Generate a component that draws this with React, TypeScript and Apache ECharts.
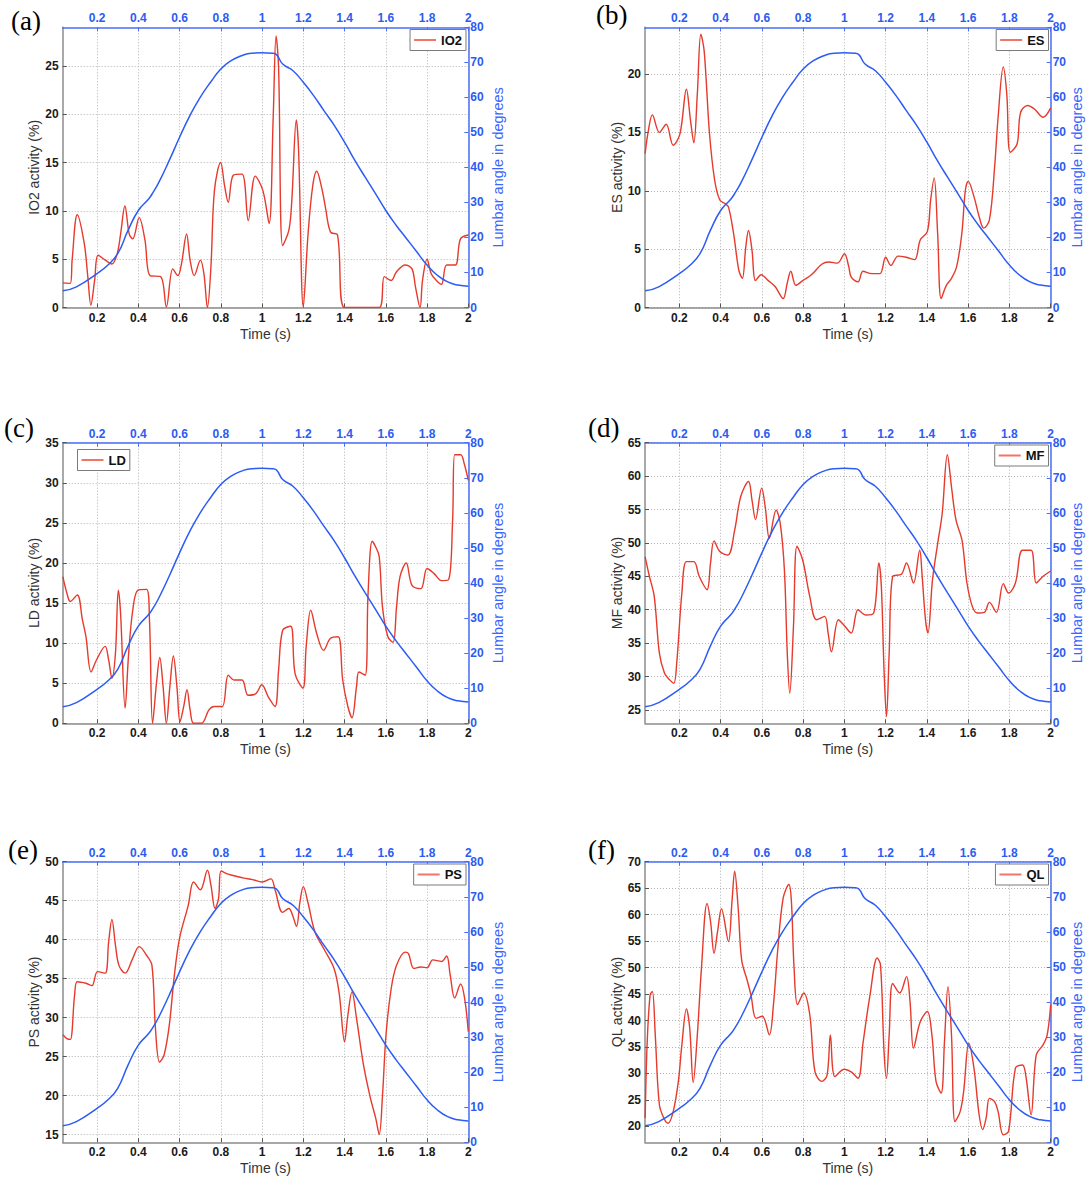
import React, { useEffect, useRef } from "react";
import * as echarts from "echarts";

// ---------- data ----------
const T_MIN = 0.0333;
const T_MAX = 2;
const timeTicks = [0.2, 0.4, 0.6, 0.8, 1.0, 1.2, 1.4, 1.6, 1.8, 2.0];

// lumbar angle (degrees) vs time (s) – same trial for every panel
const lumbarAngle: [number, number][] = [
  [0.034, 4.75], [0.1, 5.9], [0.2, 9.7], [0.25, 12], [0.3, 15.4], [0.35, 22], [0.4, 27.7],
  [0.45, 31], [0.47, 32.7], [0.5, 35.8], [0.55, 42], [0.6, 48.6], [0.65, 54.8], [0.7, 60],
  [0.75, 64.3], [0.8, 68.1], [0.85, 70.5], [0.9, 71.9], [0.95, 72.6], [1.0, 72.7], [1.05, 72.6],
  [1.07, 72.2], [1.1, 69.5], [1.15, 67.6], [1.2, 64.3], [1.25, 60.5], [1.3, 56.2], [1.35, 52],
  [1.4, 47.2], [1.45, 42], [1.5, 37.2], [1.55, 32.5], [1.6, 27.7], [1.65, 23.5], [1.7, 19.7],
  [1.75, 15.9], [1.8, 12.1], [1.85, 9.2], [1.9, 7.3], [1.95, 6.4], [2.0, 6.1],
];

const io2Activity: [number, number][] = [
  [0.034, 2.55], [0.07, 2.5], [0.079, 4.9], [0.104, 9.6], [0.138, 6.6], [0.155, 3.2], [0.17, 0.24],
  [0.188, 2.8], [0.205, 5.4], [0.24, 4.9], [0.272, 4.5], [0.298, 5.6], [0.314, 7.6], [0.335, 10.5],
  [0.356, 7.6], [0.373, 7.1], [0.404, 9.3], [0.432, 7], [0.457, 3.3], [0.508, 3.2], [0.536, 0.07],
  [0.567, 4], [0.592, 3.3], [0.609, 4.5], [0.634, 7.6], [0.651, 4.9], [0.671, 3.3], [0.701, 4.9],
  [0.718, 3.5], [0.735, 0], [0.752, 4.2], [0.769, 12.1], [0.799, 15], [0.819, 12.5], [0.836, 10.9],
  [0.861, 13.7], [0.903, 13.8], [0.933, 9], [0.967, 13.6], [1.004, 12.1], [1.034, 8.7], [1.054, 19.7],
  [1.068, 28.1], [1.08, 24.9], [1.1, 6.4], [1.13, 8], [1.144, 11], [1.166, 19.4], [1.177, 16.3],
  [1.2, 0.07], [1.223, 7.6], [1.245, 12.5], [1.265, 14.1], [1.29, 12.3], [1.307, 10.4], [1.332, 7.8],
  [1.366, 7.5], [1.4, 0], [1.568, 0], [1.593, 3.2], [1.626, 2.8], [1.652, 3.7], [1.694, 4.4],
  [1.727, 4], [1.744, 2.1], [1.766, 0], [1.778, 2.8], [1.8, 5], [1.82, 3.5], [1.845, 2.8],
  [1.87, 2.4], [1.895, 4.4], [1.937, 4.4], [1.962, 7.1], [2.0, 7.5],
];

const esActivity: [number, number][] = [
  [0.034, 13.2], [0.05, 15.2], [0.069, 16.5], [0.103, 15], [0.136, 15.7], [0.17, 13.9], [0.203, 14.9],
  [0.234, 18.7], [0.254, 16], [0.27, 14.1], [0.287, 18.3], [0.304, 23.4], [0.32, 22], [0.346, 14.9],
  [0.371, 10.9], [0.396, 9.2], [0.421, 8.9], [0.438, 8.6], [0.463, 6.3], [0.488, 3.2], [0.505, 2.5],
  [0.522, 5.2], [0.535, 6.6], [0.552, 4.9], [0.569, 2.3], [0.597, 2.8], [0.631, 2.3], [0.664, 1.8],
  [0.703, 0.77], [0.723, 2.1], [0.74, 3.1], [0.765, 1.9], [0.798, 2.3], [0.84, 2.8], [0.89, 3.7],
  [0.924, 3.9], [0.966, 3.8], [1.0, 4.6], [1.021, 3.5], [1.033, 2.6], [1.066, 2.2], [1.09, 3.1],
  [1.133, 2.9], [1.172, 2.9], [1.2, 4.3], [1.225, 3.6], [1.26, 4.4], [1.3, 4.3], [1.34, 4.1],
  [1.368, 5.8], [1.402, 6.5], [1.418, 9.2], [1.435, 11.1], [1.452, 6.3], [1.469, 0.77], [1.494, 1.9],
  [1.519, 2.5], [1.544, 3.5], [1.569, 6.3], [1.586, 10], [1.6, 10.8], [1.628, 9.5], [1.653, 7.8],
  [1.675, 6.8], [1.703, 7.5], [1.728, 12], [1.745, 16.3], [1.77, 20.6], [1.787, 18.3], [1.804, 13.3],
  [1.837, 14], [1.854, 16.7], [1.888, 17.3], [1.921, 17], [1.963, 16.3], [2.0, 17.1],
];

const ldActivity: [number, number][] = [
  [0.034, 18.3], [0.054, 16.2], [0.07, 15.2], [0.104, 16], [0.129, 12.9], [0.146, 10.8], [0.171, 6.4],
  [0.197, 7.9], [0.239, 9.6], [0.256, 7.9], [0.272, 5.6], [0.289, 8.7], [0.303, 16.6], [0.314, 13.7],
  [0.336, 1.9], [0.353, 8.7], [0.373, 14.1], [0.398, 16.6], [0.44, 16.7], [0.454, 12.9], [0.469, 0],
  [0.488, 5], [0.504, 8.2], [0.52, 4.6], [0.536, 0], [0.553, 4.6], [0.57, 8.4], [0.587, 4.6],
  [0.602, 0.2], [0.62, 2.1], [0.636, 4.2], [0.651, 1.7], [0.668, 0], [0.706, 0], [0.743, 1.7],
  [0.769, 2.1], [0.807, 2.1], [0.836, 6], [0.864, 5.4], [0.903, 5.4], [0.932, 3.5], [0.97, 3.7],
  [0.999, 4.8], [1.03, 3.3], [1.063, 2.1], [1.08, 6.6], [1.1, 11.6], [1.139, 12.1], [1.16, 6.2],
  [1.198, 4.4], [1.214, 9.6], [1.236, 14.1], [1.265, 11.2], [1.298, 9.1], [1.332, 10.6], [1.369, 10.8],
  [1.391, 5.4], [1.416, 2.1], [1.436, 0.7], [1.458, 4.6], [1.47, 6.4], [1.5, 6], [1.514, 16.2],
  [1.534, 22.7], [1.551, 22], [1.568, 20.8], [1.584, 14.5], [1.61, 10.8], [1.635, 10.1], [1.652, 14.5],
  [1.669, 18.3], [1.699, 20], [1.727, 17.2], [1.77, 16.8], [1.8, 19.3], [1.833, 18.7], [1.87, 17.8],
  [1.904, 17.9], [1.924, 25.4], [1.934, 33.5], [1.963, 33.5], [1.98, 32.4], [2.0, 30.3],
];

const mfActivity: [number, number][] = [
  [0.034, 47.9], [0.053, 45.2], [0.078, 42], [0.103, 33.5], [0.128, 30.5], [0.153, 29.5], [0.173, 29],
  [0.187, 32], [0.212, 42.5], [0.234, 47.2], [0.27, 47.2], [0.296, 45], [0.334, 43], [0.351, 47],
  [0.368, 50.3], [0.396, 48.7], [0.435, 48.2], [0.468, 51.9], [0.497, 56.9], [0.535, 59.2], [0.552, 56.4],
  [0.569, 53.5], [0.599, 58.2], [0.616, 55.4], [0.636, 50.7], [0.669, 54.9], [0.689, 52.9], [0.709, 46],
  [0.723, 33.5], [0.735, 27.5], [0.753, 37.5], [0.77, 49.5], [0.798, 47.4], [0.832, 42], [0.865, 38.5],
  [0.904, 39], [0.921, 36.5], [0.937, 33.7], [0.971, 38.5], [1.0, 37.6], [1.033, 36.5], [1.066, 40],
  [1.105, 39.2], [1.142, 39.5], [1.167, 47], [1.179, 43.5], [1.192, 31], [1.204, 24], [1.217, 33.5],
  [1.234, 45], [1.276, 45.3], [1.301, 47], [1.335, 44], [1.365, 48.9], [1.376, 45.4], [1.393, 38.5],
  [1.405, 36.5], [1.427, 44.5], [1.452, 49.9], [1.474, 54.4], [1.499, 63.2], [1.519, 58.4], [1.541, 53.4],
  [1.57, 50.4], [1.594, 44], [1.62, 40.5], [1.645, 39.5], [1.678, 39.6], [1.703, 41.1], [1.737, 39.6],
  [1.77, 43.9], [1.796, 42.5], [1.829, 44], [1.863, 48.9], [1.905, 48.9], [1.93, 44], [1.963, 45],
  [2.0, 45.8],
];

const psActivity: [number, number][] = [
  [0.034, 27.8], [0.054, 27.3], [0.07, 27.2], [0.091, 32.9], [0.104, 34.6], [0.146, 34.4], [0.175, 34.1],
  [0.202, 35.9], [0.239, 35.7], [0.256, 39.7], [0.272, 42.6], [0.289, 39.3], [0.306, 36.7], [0.336, 35.7],
  [0.373, 37.6], [0.404, 39.1], [0.44, 38], [0.466, 36.7], [0.483, 28.6], [0.503, 24.3], [0.525, 25.2],
  [0.55, 29], [0.575, 35.5], [0.6, 40.2], [0.642, 44.4], [0.668, 47.4], [0.701, 46.4], [0.735, 48.9],
  [0.752, 47], [0.772, 44], [0.789, 45.3], [0.802, 48.8], [0.836, 48.4], [0.878, 48.1], [0.912, 47.9],
  [0.954, 47.7], [1.0, 47.4], [1.043, 47.8], [1.063, 46.4], [1.1, 43.5], [1.13, 44], [1.147, 43.2],
  [1.167, 41.7], [1.184, 44.9], [1.2, 46.8], [1.223, 44.7], [1.256, 41], [1.298, 38.9], [1.349, 36.3],
  [1.374, 33.1], [1.4, 26.9], [1.416, 30.3], [1.436, 33.3], [1.458, 29.9], [1.492, 23.9], [1.526, 19.6],
  [1.551, 17.1], [1.568, 15], [1.584, 20], [1.601, 27.8], [1.626, 33.7], [1.652, 36.7], [1.694, 38.4],
  [1.71, 38.2], [1.736, 36.3], [1.77, 36.5], [1.8, 36.4], [1.828, 37.4], [1.87, 37.2], [1.895, 37.9],
  [1.912, 35.5], [1.934, 32.5], [1.963, 34.3], [1.982, 32.5], [2.0, 28.2],
];

const qlActivity: [number, number][] = [
  [0.034, 21.6], [0.044, 36], [0.058, 44.8], [0.069, 45.5], [0.083, 37.3], [0.103, 24.1], [0.128, 21.3],
  [0.145, 20.6], [0.17, 22.8], [0.195, 28.5], [0.212, 35.4], [0.234, 42.2], [0.25, 38.6], [0.267, 28.3],
  [0.287, 37.3], [0.307, 49.9], [0.334, 62.1], [0.351, 58.7], [0.368, 52.7], [0.385, 56.8], [0.404, 61.1],
  [0.438, 54.9], [0.455, 62.5], [0.468, 68.2], [0.485, 61.2], [0.502, 51.4], [0.53, 47.4], [0.547, 44.8],
  [0.572, 40.4], [0.602, 40.8], [0.636, 37.3], [0.656, 43], [0.676, 53], [0.703, 63.1], [0.731, 65.7],
  [0.743, 62.5], [0.756, 49.9], [0.773, 43], [0.803, 45.2], [0.832, 41.1], [0.857, 30.4], [0.89, 28.5],
  [0.916, 29.7], [0.932, 37.3], [0.954, 29.4], [1.0, 30.8], [1.033, 30.3], [1.066, 29.1], [1.091, 36],
  [1.124, 44.8], [1.159, 51.8], [1.175, 50.5], [1.192, 34.2], [1.204, 29.1], [1.217, 37.3], [1.234, 47],
  [1.268, 45.2], [1.301, 48.3], [1.318, 43.6], [1.335, 34.8], [1.368, 39.8], [1.402, 41.7], [1.424, 37.3],
  [1.444, 28.5], [1.469, 26.3], [1.485, 36], [1.502, 46.4], [1.519, 37.3], [1.536, 20.9], [1.561, 22.8],
  [1.578, 26.6], [1.603, 35.7], [1.628, 31], [1.653, 22.2], [1.67, 19.4], [1.687, 21.6], [1.703, 25.3],
  [1.728, 24.7], [1.745, 22.8], [1.77, 18.4], [1.796, 19.1], [1.829, 31], [1.863, 31.6], [1.879, 29.7],
  [1.905, 22.2], [1.93, 33.5], [1.963, 35.4], [1.983, 37.3], [2.0, 43],
];

const muscleNames = ["IO2", "ES", "LD", "MF", "PS", "QL"];
const panelLetters = ["(a)", "(b)", "(c)", "(d)", "(e)", "(f)"];
const activitySeries = [io2Activity, esActivity, ldActivity, mfActivity, psActivity, qlActivity];
const activityMin = [0, 0, 0, 23, 14, 17];
const activityMax = [29, 24, 35, 65, 50, 70];
const activityTicks = [
  [0, 5, 10, 15, 20, 25],
  [0, 5, 10, 15, 20],
  [0, 5, 10, 15, 20, 25, 30, 35],
  [25, 30, 35, 40, 45, 50, 55, 60, 65],
  [15, 20, 25, 30, 35, 40, 45, 50],
  [20, 25, 30, 35, 40, 45, 50, 55, 60, 65, 70],
];

// ---------- layout / style ----------
const FONT = '"Liberation Sans", Arial, Helvetica, sans-serif';
const RED = "#e63a2c";
const BLUE = "#2c5cf6";
const BLUE_TEXT = "#2b5cf2";
const AXIS_GREY = "#8c8c8c";

const grids = [
  { left: 62.7, top: 27.3, width: 405.6, height: 280.2 },
  { left: 645, top: 27.3, width: 405.7, height: 280.2 },
  { left: 62.7, top: 442.7, width: 405.6, height: 280.6 },
  { left: 645, top: 442.7, width: 405.7, height: 280.6 },
  { left: 62.7, top: 861.7, width: 405.6, height: 280.6 },
  { left: 645, top: 861.7, width: 405.7, height: 280.6 },
];
const rightNameGap = [22, 18, 22, 18, 22, 18];
const legendPos: any[] = [
  { right: 621, top: 29.5 },
  { right: 38.5, top: 29.5 },
  { left: 77.5, top: 449.5 },
  { right: 38.5, top: 445 },
  { right: 621, top: 864 },
  { right: 38.5, top: 864 },
];
const letterPos = [
  { left: 11, top: 7 },
  { left: 596, top: 1 },
  { left: 4, top: 414 },
  { left: 588, top: 414 },
  { left: 8, top: 836 },
  { left: 588, top: 836 },
];

const fmt = (v: number) => String(+Number(v).toFixed(1));

function buildOption() {
  const grid: any[] = [];
  const xAxis: any[] = [];
  const yAxis: any[] = [];
  const series: any[] = [];
  const legend: any[] = [];
  const graphic: any[] = [];

  for (let i = 0; i < 6; i++) {
    grid.push({ ...grids[i], containLabel: false, outerBoundsMode: "none" });

    // bottom time axis
    xAxis.push({
      type: "value",
      gridIndex: i,
      position: "bottom",
      min: T_MIN,
      max: T_MAX,
      axisLine: { show: true, onZero: false, lineStyle: { color: AXIS_GREY, width: 1.5 } },
      axisTick: { show: true, inside: true, length: 4, customValues: timeTicks, lineStyle: { color: "#555" } },
      axisLabel: {
        customValues: timeTicks,
        formatter: fmt,
        color: "#1a1a1a",
        fontWeight: "bold",
        fontSize: 12,
        fontFamily: FONT,
        margin: 4,
      },
      splitLine: { show: true, lineStyle: { color: "#b3b3b3", type: [1, 2], width: 1 } },
      name: "Time (s)",
      nameLocation: "middle",
      nameGap: 19,
      nameTextStyle: { fontSize: 14, color: "#333", fontFamily: FONT },
    });
    // top time axis (blue)
    xAxis.push({
      type: "value",
      gridIndex: i,
      position: "top",
      min: T_MIN,
      max: T_MAX,
      axisLine: { show: true, onZero: false, lineStyle: { color: "#4a6ef7", width: 1.5 } },
      axisTick: { show: true, inside: true, length: 4, customValues: timeTicks, lineStyle: { color: "#4a6ef7" } },
      axisLabel: {
        customValues: timeTicks,
        formatter: fmt,
        color: BLUE_TEXT,
        fontWeight: "bold",
        fontSize: 12,
        fontFamily: FONT,
        margin: 3,
      },
      splitLine: { show: false },
    });

    // left activity axis
    yAxis.push({
      type: "value",
      gridIndex: i,
      position: "left",
      min: activityMin[i],
      max: activityMax[i],
      axisLine: { show: true, onZero: false, lineStyle: { color: AXIS_GREY, width: 1.5 } },
      axisTick: { show: true, inside: true, length: 4, customValues: activityTicks[i], lineStyle: { color: "#555" } },
      axisLabel: {
        customValues: activityTicks[i],
        color: "#1a1a1a",
        fontWeight: "bold",
        fontSize: 12,
        fontFamily: FONT,
        margin: 4,
      },
      splitLine: { show: true, lineStyle: { color: "#b3b3b3", type: [1, 2], width: 1 } },
      name: muscleNames[i] + " activity (%)",
      nameLocation: "middle",
      nameGap: 21,
      nameTextStyle: { fontSize: 14, color: "#333", fontFamily: FONT },
    });
    // right lumbar angle axis
    yAxis.push({
      type: "value",
      gridIndex: i,
      position: "right",
      min: 0,
      max: 80,
      interval: 10,
      axisLine: { show: true, onZero: false, lineStyle: { color: "#4a6ef7", width: 1.5 } },
      axisTick: { show: true, inside: true, length: 4, lineStyle: { color: "#4a6ef7" } },
      axisLabel: {
        color: BLUE_TEXT,
        fontWeight: "bold",
        fontSize: 12,
        fontFamily: FONT,
        margin: 2,
      },
      splitLine: { show: false },
      name: "Lumbar angle in degrees",
      nameLocation: "middle",
      nameGap: rightNameGap[i],
      nameTextStyle: { fontSize: 14.5, color: "#3a66ff", fontFamily: FONT },
    });

    series.push({
      name: muscleNames[i],
      type: "line",
      xAxisIndex: 2 * i,
      yAxisIndex: 2 * i,
      data: activitySeries[i],
      symbol: "none",
      smooth: 0.35,
      lineStyle: { color: RED, width: 1.4 },
      itemStyle: { color: "#f07565" },
      z: 3,
    });
    series.push({
      name: "Lumbar angle " + panelLetters[i],
      type: "line",
      xAxisIndex: 2 * i,
      yAxisIndex: 2 * i + 1,
      data: lumbarAngle,
      symbol: "none",
      smooth: 0.5,
      lineStyle: { color: BLUE, width: 1.5 },
      itemStyle: { color: BLUE },
      z: 4,
    });

    legend.push({
      ...legendPos[i],
      data: [{ name: muscleNames[i], icon: "rect" }],
      orient: "horizontal",
      backgroundColor: "#fff",
      borderColor: "#7a7a7a",
      borderWidth: 1,
      borderRadius: 0,
      padding: [4, 4, 4, 4],
      itemWidth: 22,
      itemHeight: 2,
      itemGap: 4,
      selectedMode: false,
      textStyle: { fontSize: 13, fontWeight: "bold", color: "#111", fontFamily: FONT, lineHeight: 12 },
    });

    graphic.push({
      type: "text",
      left: letterPos[i].left,
      top: letterPos[i].top,
      style: {
        text: panelLetters[i],
        fontSize: 27,
        fontFamily: '"Liberation Serif", "Times New Roman", serif',
        fill: "#000",
      },
    });
  }

  return {
    animation: false,
    backgroundColor: "#fff",
    textStyle: { fontFamily: FONT },
    grid,
    xAxis,
    yAxis,
    series,
    legend,
    graphic,
  };
}

export default function App() {
  const ref = useRef<HTMLDivElement>(null);
  useEffect(() => {
    if (!ref.current) return;
    const chart = echarts.init(ref.current, undefined, { renderer: "svg" });
    chart.setOption(buildOption() as any);
    return () => chart.dispose();
  }, []);
  return (
    <div
      ref={ref}
      style={{ position: "absolute", left: 0, top: 0, width: 1087, height: 1180, background: "#fff" }}
    />
  );
}
